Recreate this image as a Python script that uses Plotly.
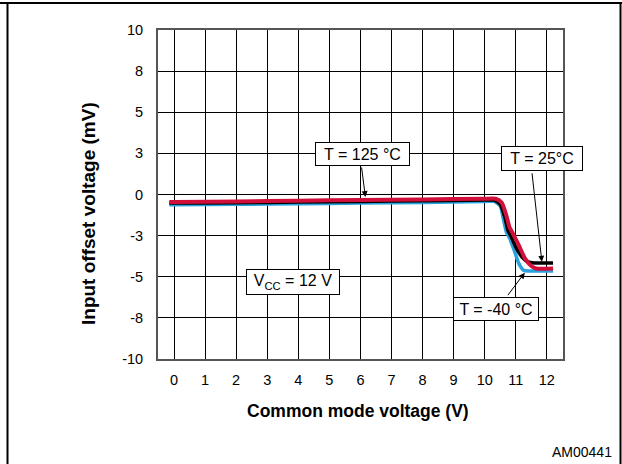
import plotly.graph_objects as go

# ---- data ----
x_125 = [-0.15, 0, 2, 4, 6, 8, 10, 10.35, 10.55, 10.7, 10.8, 10.9, 11.1, 11.3, 11.5, 11.65, 12.2]
y_125 = [-0.45, -0.45, -0.42, -0.38, -0.33, -0.3, -0.26, -0.26, -0.5, -1.3, -2.0, -2.35, -3.1, -3.9, -4.35, -4.5, -4.5]

x_25 = [-0.15, 0, 2, 4, 6, 8, 10, 10.3, 10.5, 10.65, 10.75, 10.85, 11.0, 11.2, 11.4, 11.6, 12.2]
y_25 = [-0.52, -0.52, -0.5, -0.46, -0.42, -0.38, -0.34, -0.34, -0.6, -1.4, -2.2, -2.55, -3.2, -3.8, -4.1, -4.16, -4.16]

x_m40 = [-0.15, 0, 2, 4, 6, 8, 10, 10.3, 10.5, 10.6, 10.7, 10.8, 10.95, 11.1, 11.25, 11.4, 12.2]
y_m40 = [-0.62, -0.62, -0.6, -0.56, -0.52, -0.48, -0.42, -0.42, -0.7, -1.5, -2.3, -2.65, -3.4, -4.2, -4.6, -4.65, -4.65]

x_ticks = list(range(0, 13))
y_ticks = [10, 7.5, 5, 2.5, 0, -2.5, -5, -7.5, -10]
y_tick_labels = ["10", "8", "5", "3", "0", "-3", "-5", "-8", "-10"]

W, H = 622, 464
L, R, T, B = 158, 59, 30, 105
pw, ph = W - L - R, H - T - B


def px(xp):
    return (xp - L) / pw


def py(yp):
    return (H - B - yp) / ph


fig = go.Figure()
fig.add_trace(go.Scatter(x=x_m40, y=y_m40, mode="lines", line=dict(color="#2aa3dc", width=3.5, shape="spline", smoothing=0.6), hoverinfo="skip"))
fig.add_trace(go.Scatter(x=x_25, y=y_25, mode="lines", line=dict(color="#000000", width=3.5, shape="spline", smoothing=0.6), hoverinfo="skip"))
fig.add_trace(go.Scatter(x=x_125, y=y_125, mode="lines", line=dict(color="#d0103a", width=4, shape="spline", smoothing=0.6), hoverinfo="skip"))

font_main = "Liberation Sans, Arial, Helvetica, sans-serif"

annotations = []
# text boxes
boxes = [
    ("T = 125 °C", 6.08, 2.46, 91, 20),
    ("T = 25°C", 11.85, 2.17, 78, 21),
    ("T = -40 °C", 10.35, -6.94, 82, 20),
    ("V<sub>CC</sub> = 12 V", 3.83, -5.3, 90, 22),
]
for txt, bx, by, bw, bh in boxes:
    annotations.append(dict(x=bx, y=by, xref="x", yref="y", text=txt, showarrow=False,
                            font=dict(family=font_main, size=16, color="black"),
                            bgcolor="white", bordercolor="black", borderwidth=1, borderpad=1,
                            width=bw, height=bh, align="center", valign="middle"))
# arrows
arrows = [
    (6.16, -0.15, -4, -31),
    (11.84, -4.09, -10, -90),
    (11.29, -4.75, -18, 24),
]
for axx, ayy, dx, dy in arrows:
    annotations.append(dict(x=axx, y=ayy, xref="x", yref="y", text="", showarrow=True,
                            ax=dx, ay=dy, arrowhead=2, arrowsize=1.2, arrowwidth=1,
                            arrowcolor="black", standoff=0, startstandoff=0))

# axis titles
annotations.append(dict(x=px(358), y=py(411), xref="paper", yref="paper", text="<b>Common mode voltage (V)</b>",
                        showarrow=False, font=dict(family=font_main, size=17.5, color="black"),
                        xanchor="center", yanchor="middle"))
annotations.append(dict(x=px(88), y=py(214), xref="paper", yref="paper", text="<b>Input offset voltage (mV)</b>",
                        showarrow=False, textangle=-90, font=dict(family=font_main, size=19, color="black"),
                        xanchor="center", yanchor="middle"))
annotations.append(dict(x=px(614), y=py(452), xref="paper", yref="paper", text="AM00441",
                        showarrow=False, font=dict(family=font_main, size=14, color="black"),
                        xanchor="right", yanchor="middle"))

shapes = [
    dict(type="line", xref="paper", yref="paper", x0=px(0), x1=px(W), y0=py(3), y1=py(3), line=dict(color="black", width=2)),
    dict(type="line", xref="paper", yref="paper", x0=px(7.5), x1=px(7.5), y0=py(3), y1=py(H), line=dict(color="black", width=2)),
    dict(type="line", xref="paper", yref="paper", x0=px(620.5), x1=px(620.5), y0=py(3), y1=py(H), line=dict(color="black", width=2)),
]

fig.update_layout(
    width=W, height=H,
    margin=dict(l=L, r=R, t=T, b=B, pad=0),
    paper_bgcolor="white", plot_bgcolor="white",
    showlegend=False,
    annotations=annotations,
    shapes=shapes,
    font=dict(family=font_main, size=14, color="black"),
)
fig.update_xaxes(range=[-0.515, 12.52], tickvals=x_ticks, ticktext=[str(v) for v in x_ticks],
                 showgrid=True, gridcolor="black", gridwidth=1, zeroline=False,
                 showline=True, linecolor="#555555", linewidth=2, mirror=True,
                 ticks="", ticklabelstandoff=7, tickfont=dict(size=14.5))
fig.update_yaxes(range=[-10, 10], tickvals=y_ticks, ticktext=y_tick_labels,
                 showgrid=True, gridcolor="black", gridwidth=1, zeroline=False,
                 showline=True, linecolor="#555555", linewidth=2, mirror=True,
                 ticks="", ticklabelstandoff=10, tickfont=dict(size=14.5))

fig.write_html("out.html", config={"displayModeBar": False},
               post_script="document.body.style.margin='0';")
